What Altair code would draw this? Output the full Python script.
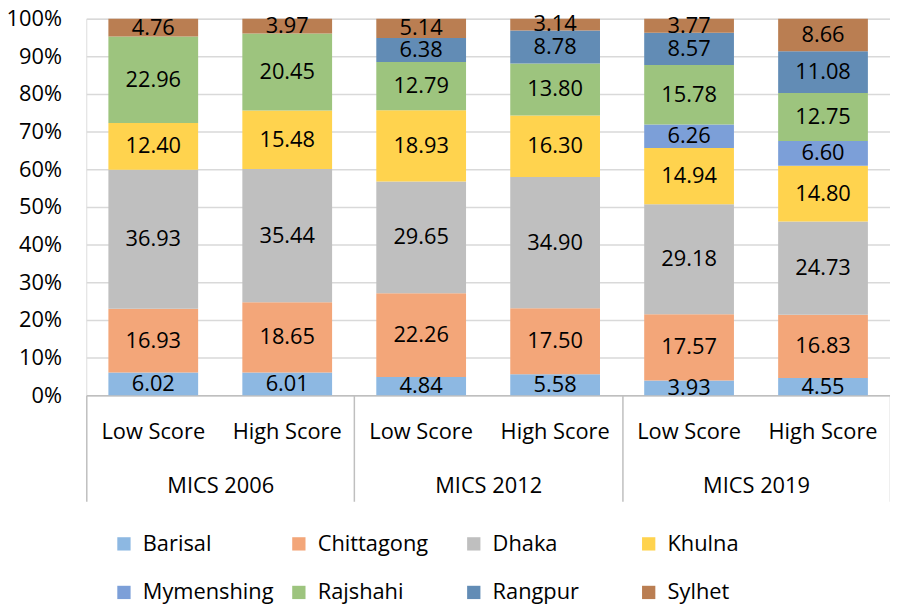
import altair as alt
import pandas as pd

surveys = ["MICS 2006", "MICS 2012", "MICS 2019"]
scores = ["Low Score", "High Score"]
regions = ["Barisal", "Chittagong", "Dhaka", "Khulna", "Mymenshing", "Rajshahi", "Rangpur", "Sylhet"]
colors = ["#8DB8E2", "#F3A679", "#BFBFBF", "#FFD34E", "#7C9FD8", "#9DC47E", "#628CB5", "#BA7E52"]
y_ticks = [0, 0.1, 0.2, 0.3, 0.4, 0.5, 0.6, 0.7, 0.8, 0.9, 1.0]

# values per region for bars: 2006 Low, 2006 High, 2012 Low, 2012 High, 2019 Low, 2019 High
barisal = [6.02, 6.01, 4.84, 5.58, 3.93, 4.55]
chittagong = [16.93, 18.65, 22.26, 17.50, 17.57, 16.83]
dhaka = [36.93, 35.44, 29.65, 34.90, 29.18, 24.73]
khulna = [12.40, 15.48, 18.93, 16.30, 14.94, 14.80]
mymenshing = [None, None, None, None, 6.26, 6.60]
rajshahi = [22.96, 20.45, 12.79, 13.80, 15.78, 12.75]
rangpur = [None, None, 6.38, 8.78, 8.57, 11.08]
sylhet = [4.76, 3.97, 5.14, 3.14, 3.77, 8.66]

series = [barisal, chittagong, dhaka, khulna, mymenshing, rajshahi, rangpur, sylhet]
cats = [f"{s}|{sc}" for s in surveys for sc in scores]

rows = []
for ri, (reg, vals) in enumerate(zip(regions, series)):
    for ci, v in enumerate(vals):
        if v is not None:
            rows.append({"cat": cats[ci], "region": reg, "order": ri, "value": v})
df = pd.DataFrame(rows)

FONT = "Open Sans"
FS = 22
W, H = 811, 380

base = alt.Chart(df).transform_stack(
    stack="value", groupby=["cat"], as_=["v0", "v1"], offset="normalize",
    sort=[alt.SortField("order", order="ascending")]
).transform_calculate(mid="(datum.v0 + datum.v1) / 2")

xscale = alt.Scale(paddingInner=0.33, paddingOuter=0.165)
xaxis = alt.Axis(orient="bottom", labelExpr="split(datum.value, '|')[1]", labelAngle=0,
                 ticks=False, tickSize=0, domain=True, domainColor="#BFBFBF", domainWidth=1.5,
                 labelFont=FONT, labelFontSize=FS, labelColor="#000000",
                 labelPadding=37, labelBaseline="middle", grid=False)
yscale = alt.Scale(domain=[0, 1])
yaxis = alt.Axis(format=".0%", values=y_ticks, tickCount=11, domain=False, ticks=False,
                 grid=True, gridColor="#D9D9D9", gridWidth=1.5, labelOverlap=False,
                 labelFont=FONT, labelFontSize=FS, labelColor="#000000", labelPadding=25)

bars = base.mark_bar().encode(
    x=alt.X("cat:N", sort=cats, title=None, scale=xscale, axis=xaxis),
    y=alt.Y("v0:Q", scale=yscale, title=None, axis=yaxis),
    y2="v1:Q",
    color=alt.Color("region:N", scale=alt.Scale(domain=regions, range=colors),
                    legend=alt.Legend(orient="none", legendX=27, legendY=519, columns=4, gridAlign="all",
                                      direction="horizontal",
                                      title=None, symbolType="square", symbolSize=180, symbolStrokeWidth=0,
                                      labelFont=FONT, labelFontSize=FS, labelColor="#000000", labelOffset=8,
                                      columnPadding=14.5, rowPadding=27, padding=0, labelLimit=300)),
)

text = base.mark_text(font=FONT, fontSize=FS, color="#000000", baseline="middle").encode(
    x=alt.X("cat:N", sort=cats, title=None, scale=xscale, axis=xaxis),
    y=alt.Y("mid:Q", scale=yscale, title=None, axis=yaxis),
    text=alt.Text("value:Q", format=".2f"),
)

groups = alt.Chart(pd.DataFrame({"survey": surveys})).mark_bar(opacity=0).encode(
    x=alt.X("survey:N", sort=surveys, title=None,
            scale=alt.Scale(paddingInner=0, paddingOuter=0),
            axis=alt.Axis(orient="bottom", tickBand="extent", ticks=True, tickSize=107,
                          tickColor="#BFBFBF", tickWidth=1.5, domain=False, labelAngle=0,
                          labelFont=FONT, labelFontSize=FS, labelColor="#000000",
                          labelPadding=-16, labelBaseline="middle", grid=False)),
)

chart = alt.layer(alt.layer(bars, text), groups).resolve_scale(x="independent").properties(
    width=W, height=H,
    autosize=alt.AutoSizeParams(type="none"),
    padding={"left": 79, "top": 8, "right": 0, "bottom": 215},
).configure_view(stroke=None).configure(font=FONT)

chart.save("out.html", embed_options={"renderer": "svg", "actions": False})
